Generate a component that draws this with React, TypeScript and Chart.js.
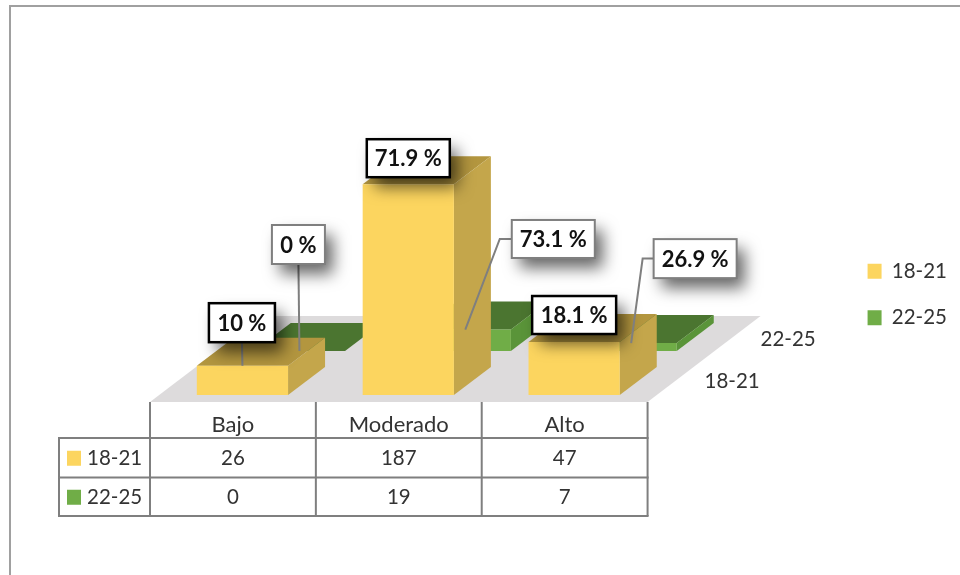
import React, { useEffect, useRef } from "react";
import { Chart, registerables } from "chart.js";

Chart.register(...registerables);

const categories = ["Bajo", "Moderado", "Alto"];
const seriesNames = ["18-21", "22-25"];
const values1821 = [26, 187, 47];
const values2225 = [0, 19, 7];
const percent1821 = ["10 %", "71.9 %", "18.1 %"];
const percent2225 = ["0 %", "73.1 %", "26.9 %"];

const FONT = "Lato";
const TEXT = "#333333";
const GRID = "#7f7f7f";
const DEPTH = { dx: 37, dy: -28 };
const FLOOR = { dx: 113, dy: -86, drop: 7 };
const faces = [
  { front: "#FCD55F", side: "#C4A64B", top: "#B3963F", shiftX: 9.5, shiftY: 0 },
  { front: "#70AD47", side: "#5A9439", top: "#4B7530", shiftX: 66.5, shiftY: -44 },
];
// callout box placement relative to the top of its bar: [dx, dy, w, h, knee]
const calloutLayout = [
  [
    { dx: -0.5, dy: -43, w: 66, h: 39, strong: true, knee: 0 },
    { dx: 0, dy: -26, w: 83, h: 38, strong: true, knee: 0, noLeader: true },
    { dx: 0, dy: -27, w: 84, h: 38, strong: true, knee: 0, noLeader: true },
  ],
  [
    { dx: -1, dy: -106.5, w: 53, h: 39, strong: false, knee: 0 },
    { dx: 88, dy: -90.6, w: 83, h: 38, strong: false, knee: 12 },
    { dx: 64, dy: -84.5, w: 83, h: 39, strong: false, knee: 11 },
  ],
];

function poly(ctx: CanvasRenderingContext2D, pts: number[][], fill: string) {
  ctx.beginPath();
  pts.forEach((p, i) => (i ? ctx.lineTo(p[0], p[1]) : ctx.moveTo(p[0], p[1])));
  ctx.closePath();
  ctx.fillStyle = fill;
  ctx.fill();
}

const scene = {
  id: "scene",
  beforeDraw(chart: any) {
    const { ctx, width, height } = chart;
    ctx.save();
    ctx.fillStyle = "#ffffff";
    ctx.fillRect(0, 0, width, height);
    ctx.strokeStyle = "#a0a0a0";
    ctx.lineWidth = 2;
    ctx.beginPath();
    ctx.moveTo(10, height);
    ctx.lineTo(10, 6);
    ctx.lineTo(width, 6);
    ctx.stroke();
    ctx.restore();
  },
  beforeDatasetsDraw(chart: any) {
    const { ctx, chartArea: a } = chart;
    const b = a.bottom + FLOOR.drop;
    poly(
      ctx,
      [
        [a.left, b],
        [a.right, b],
        [a.right + FLOOR.dx, b + FLOOR.dy],
        [a.left + FLOOR.dx, b + FLOOR.dy],
      ],
      "#DDDBDC"
    );
  },
  beforeDatasetDraw(chart: any, args: any) {
    const { ctx } = chart;
    const f = faces[args.index];
    ctx.save();
    ctx.translate(f.shiftX, f.shiftY);
    args.meta.data.forEach((el: any) => {
      const l = el.x - el.width / 2;
      const r = el.x + el.width / 2;
      poly(ctx, [[l, el.y], [r, el.y], [r + DEPTH.dx, el.y + DEPTH.dy], [l + DEPTH.dx, el.y + DEPTH.dy]], f.top);
      poly(ctx, [[r, el.y], [r, el.base], [r + DEPTH.dx, el.base + DEPTH.dy], [r + DEPTH.dx, el.y + DEPTH.dy]], f.side);
    });
  },
  afterDatasetDraw(chart: any) {
    chart.ctx.restore();
  },
  afterDatasetsDraw(chart: any) {
    const { ctx, chartArea: a, scales } = chart;
    const x = scales.x;
    ctx.save();

    // series names along the depth axis
    ctx.font = `20.5px ${FONT}`;
    ctx.fillStyle = TEXT;
    ctx.textAlign = "left";
    ctx.textBaseline = "middle";
    ctx.fillText(seriesNames[0], a.right + 57, a.bottom - 14);
    ctx.fillText(seriesNames[1], a.right + 113, a.bottom - 56);

    // data table
    const edges = [0, 1, 2].map((i) => x.getPixelForTick(i) - (x.getPixelForTick(1) - x.getPixelForTick(0)) / 2);
    edges.push(a.right);
    const top = a.bottom + FLOOR.drop;
    const rows = [top + 36, top + 75.5, top + 114];
    const keyLeft = 59;
    ctx.strokeStyle = GRID;
    ctx.lineWidth = 2;
    edges.forEach((e) => {
      ctx.beginPath();
      ctx.moveTo(e, top);
      ctx.lineTo(e, rows[2]);
      ctx.stroke();
    });
    ctx.beginPath();
    ctx.moveTo(keyLeft, rows[0]);
    ctx.lineTo(keyLeft, rows[2]);
    ctx.stroke();
    rows.forEach((y) => {
      ctx.beginPath();
      ctx.moveTo(keyLeft - 1, y);
      ctx.lineTo(a.right + 1, y);
      ctx.stroke();
    });
    [values1821, values2225].forEach((vals, r) => {
      const cy = (rows[r] + rows[r + 1]) / 2 + 1;
      ctx.fillStyle = faces[r].front;
      ctx.fillRect(keyLeft + 8, cy - 8, 14, 15);
      ctx.fillStyle = TEXT;
      ctx.textAlign = "left";
      ctx.fillText(seriesNames[r], keyLeft + 28, cy);
      ctx.textAlign = "center";
      vals.forEach((v, i) => ctx.fillText(String(v), x.getPixelForTick(i), cy));
    });

    // callouts
    [percent1821, percent2225].forEach((labels, s) => {
      const f = faces[s];
      const meta = chart.getDatasetMeta(s);
      labels.forEach((text, i) => {
        const el = meta.data[i];
        const ax = el.x + f.shiftX;
        const ay = el.y + f.shiftY;
        const c = calloutLayout[s][i] as any;
        const cx = ax + c.dx;
        const cy = ay + c.dy;
        const bx = cx - c.w / 2;
        const by = cy - c.h / 2;
        if (!c.noLeader) {
          ctx.strokeStyle = GRID;
          ctx.lineWidth = 2;
          ctx.beginPath();
          if (c.knee) {
            ctx.moveTo(bx, cy);
            ctx.lineTo(bx - c.knee, cy);
          } else {
            ctx.moveTo(cx, by + c.h);
          }
          ctx.lineTo(ax, ay);
          ctx.stroke();
        }
        ctx.save();
        ctx.shadowColor = "rgba(0,0,0,0.6)";
        ctx.shadowBlur = 16;
        ctx.shadowOffsetX = 8;
        ctx.shadowOffsetY = 10;
        ctx.fillStyle = "#ffffff";
        ctx.fillRect(bx, by, c.w, c.h);
        ctx.restore();
        ctx.strokeStyle = c.strong ? "#000000" : GRID;
        ctx.lineWidth = c.strong ? 2.5 : 2;
        ctx.strokeRect(bx, by, c.w, c.h);
        ctx.fillStyle = "#111111";
        ctx.font = `bold 22px ${FONT}`;
        ctx.textAlign = "center";
        ctx.textBaseline = "middle";
        ctx.fillText(text, cx, cy + 1);
      });
    });
    ctx.restore();
  },
};

export default function App() {
  const ref = useRef<HTMLCanvasElement>(null);
  useEffect(() => {
    const chart = new Chart(ref.current as HTMLCanvasElement, {
      type: "bar",
      data: {
        labels: categories,
        datasets: [
          {
            label: seriesNames[0],
            data: values1821,
            backgroundColor: faces[0].front,
            order: 1,
            clip: false,
          },
          {
            label: seriesNames[1],
            data: values2225,
            backgroundColor: faces[1].front,
            order: 2,
            clip: false,
          },
        ],
      } as any,
      options: {
        responsive: false,
        animation: false,
        layout: { padding: { left: 150, top: 14, right: 3, bottom: 0 } },
        datasets: { bar: { grouped: false, categoryPercentage: 1, barPercentage: 0.55 } },
        plugins: {
          tooltip: { enabled: false },
          legend: {
            position: "right",
            labels: {
              boxWidth: 14,
              boxHeight: 15,
              padding: 26,
              color: TEXT,
              font: { family: FONT, size: 20.5 },
            },
          },
        },
        scales: {
          x: {
            grid: { display: false, drawTicks: false },
            border: { display: false },
            ticks: {
              color: TEXT,
              padding: 17,
              maxRotation: 0,
              font: { family: FONT, size: 22 },
            },
            afterFit(s: any) {
              s.height = 180;
            },
          },
          y: { display: false, min: 0, max: 338 },
          spacer: {
            position: "right",
            display: true,
            grid: { display: false, drawTicks: false },
            border: { display: false },
            ticks: { display: false },
            afterFit(s: any) {
              s.width = 194;
            },
          },
        },
      } as any,
      plugins: [scene],
    });
    return () => chart.destroy();
  }, []);
  return (
    <div style={{ position: "fixed", left: 0, top: 0, width: 960, height: 575, background: "#fff" }}>
      <canvas ref={ref} width={960} height={575} style={{ display: "block" }} />
    </div>
  );
}
